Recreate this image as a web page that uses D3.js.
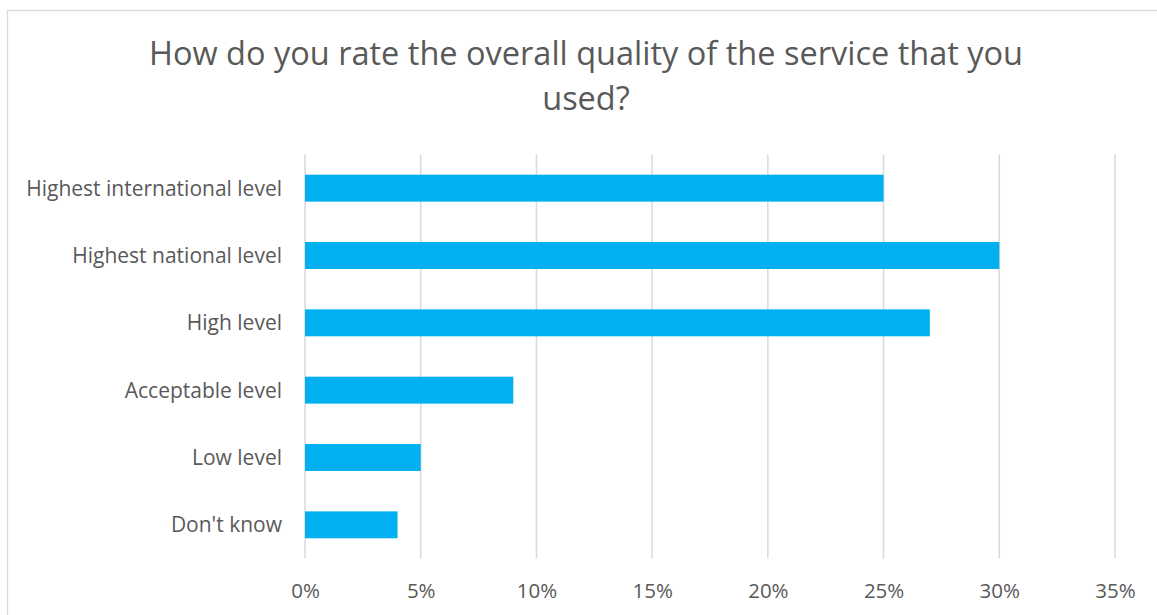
<!DOCTYPE html>
<html>
<head>
<meta charset="utf-8">
<script src="https://cdn.jsdelivr.net/npm/d3@7"></script>
<style>
  html, body { margin: 0; padding: 0; background: #fff; }
  svg { display: block; }
  text { font-family: "Open Sans", Lato, sans-serif; fill: #595959; }
</style>
</head>
<body>
<svg id="chart" width="1157" height="615"></svg>
<script>
// Survey answers, top to bottom, with their share of respondents (%)
const categories = [
  "Highest international level",
  "Highest national level",
  "High level",
  "Acceptable level",
  "Low level",
  "Don't know"
];
const shares = [25, 30, 27, 9, 5, 4];
const tickValues = [0, 5, 10, 15, 20, 25, 30, 35];
const titleLines = [
  "How do you rate the overall quality of the service that you",
  "used?"
];

const W = 1157, H = 615;
const plot = { left: 305, right: 1115, top: 154.5, bottom: 558.5 };

const svg = d3.select("#chart");

// chart frame
svg.append("rect")
  .attr("x", 7.5).attr("y", 10.5)
  .attr("width", W + 20).attr("height", H + 20)
  .attr("fill", "#fff")
  .attr("stroke", "#d9d9d9").attr("stroke-width", 1.3);

// title, two lines
svg.append("text")
  .attr("text-anchor", "middle")
  .attr("font-size", 32.5)
  .selectAll("tspan")
  .data(titleLines)
  .join("tspan")
  .attr("x", 586)
  .attr("y", (d, i) => 65 + i * 45)
  .text(d => d);

const x = d3.scaleLinear().domain([0, 35]).range([plot.left, plot.right]);
const y = d3.scaleBand().domain(categories).range([plot.top, plot.bottom]).paddingInner(0.6).paddingOuter(0.3);

// vertical gridlines
svg.append("g")
  .selectAll("line")
  .data(tickValues)
  .join("line")
  .attr("x1", d => x(d)).attr("x2", d => x(d))
  .attr("y1", plot.top).attr("y2", plot.bottom)
  .attr("stroke", "#d9d9d9").attr("stroke-width", 1.5);

// bars
svg.append("g")
  .selectAll("rect")
  .data(categories.map((c, i) => ({ c, v: shares[i] })))
  .join("rect")
  .attr("x", x(0))
  .attr("y", d => y(d.c))
  .attr("width", d => x(d.v) - x(0))
  .attr("height", y.bandwidth())
  .attr("fill", "#00b0f0");

// x axis labels
const xAxis = d3.axisBottom(x).tickValues(tickValues).tickFormat(d => d + "%").tickSize(0).tickPadding(0);
const gx = svg.append("g").attr("transform", `translate(0,${plot.bottom})`).call(xAxis);
gx.select(".domain").remove();
gx.selectAll("text")
  .attr("font-size", 20.5)
  .attr("font-family", null)
  .attr("fill", "#595959")
  .attr("dy", null)
  .attr("y", 39);

// category labels
const yAxis = d3.axisLeft(y).tickSize(0).tickPadding(0);
const gy = svg.append("g").attr("transform", `translate(282,0)`).call(yAxis);
gy.select(".domain").remove();
gy.selectAll("text")
  .attr("font-size", 21)
  .attr("font-family", null)
  .attr("fill", "#595959")
  .attr("dy", "0.36em");
</script>
</body>
</html>
